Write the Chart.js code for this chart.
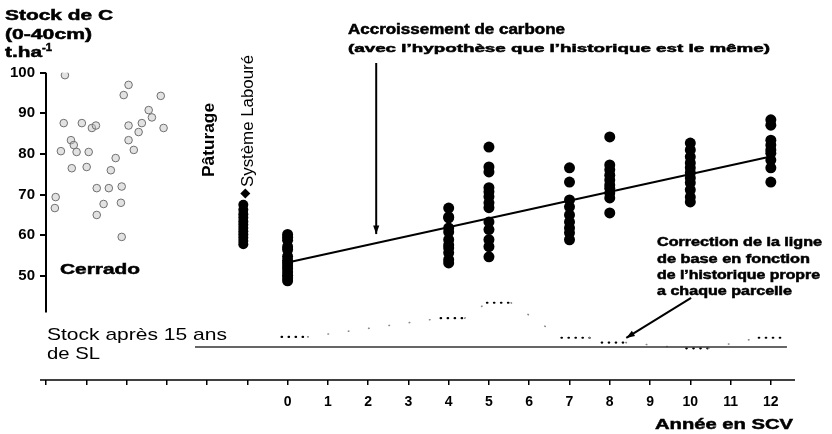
<!DOCTYPE html>
<html>
<head>
<meta charset="utf-8">
<script src="https://cdn.jsdelivr.net/npm/chart.js@4.4.1/dist/chart.umd.min.js"></script>
<style>
  html, body { margin: 0; padding: 0; background: #fff; }
  #wrap { width: 832px; height: 434px; }
</style>
</head>
<body>
<div id="wrap"><canvas id="stock"></canvas></div>
<script>
// values (x in years of SCV, y in t C/ha)
const yTicks = [50, 60, 70, 80, 90, 100];
const xLabels = [0, 1, 2, 3, 4, 5, 6, 7, 8, 9, 10, 11, 12];

const cerradoX = [-5.53, -3.95, -4.07, -3.15, -5.56, -5.11, -4.86, -4.76, -5.38, -5.31, -5.63, -5.24,
  -4.94, -5.36, -4.99, -4.39, -4.27, -3.95, -3.95, -3.70, -3.62, -3.37, -3.45, -3.08, -3.82, -4.74,
  -4.44, -4.12, -5.76, -5.78, -4.57, -4.14, -4.74, -4.12];
const cerradoY = [99.4, 97.0, 94.5, 94.3, 87.6, 87.6, 86.4, 87.0, 83.4, 82.2, 80.7, 80.5,
  80.5, 76.5, 76.8, 76.0, 79.0, 83.4, 87.0, 85.4, 87.6, 89.0, 90.8, 86.4, 81.0, 71.6,
  71.6, 72.0, 69.4, 66.7, 67.7, 68.0, 65.0, 59.6];

const paturageX = -1.1;
const paturageY = [67.5, 66.3, 65.2, 64.3, 63.4, 62.6, 61.8, 61.0, 60.2, 59.4, 58.6, 57.8];
const laboureX = -1.05;
const laboureY = [70.3];

const scvYears = [0, 4, 5, 7, 8, 10, 12];
const scvStocks = [
  [60.2, 59.5, 58.8, 57.2, 56.5, 54.8, 53.8, 53.2, 52.5, 51.8, 51.0, 50.2, 49.5, 48.8],
  [66.7, 64.5, 64.3, 61.8, 60.8, 58.9, 57.6, 56.9, 55.7, 54.0, 53.2],
  [81.7, 76.8, 75.6, 71.7, 70.7, 69.5, 68.0, 66.8, 63.3, 61.4, 58.9, 57.2, 54.7],
  [76.6, 73.1, 68.7, 67.0, 65.0, 63.3, 61.8, 60.6, 58.9],
  [84.2, 77.3, 76.1, 74.8, 73.6, 72.4, 71.6, 70.4, 69.2, 65.5],
  [82.7, 81.0, 79.3, 77.8, 76.6, 75.4, 74.1, 72.9, 71.2, 69.4, 68.2],
  [88.4, 87.1, 83.4, 82.2, 81.0, 80.2, 78.5, 76.6, 73.1]
];

const trendX = [0, 12];
const trendY = [53.3, 79.4];

const baseX = [-2.3, 12.4];
const baseY = [32.5, 32.5];

const corrX = [-0.15, 0.5, 3.8, 4.4, 4.95, 5.55, 6.8, 7.5, 7.8, 8.4, 9.9, 10.45, 11.7, 12.25];
const corrY = [35.0, 35.0, 39.6, 39.6, 43.4, 43.4, 34.8, 34.8, 33.6, 33.6, 32.2, 32.2, 34.8, 34.8];

const FONT = '"Liberation Sans", Arial, sans-serif';

const pts = (xs, ys) => ys.map((v, i) => ({ x: Array.isArray(xs) ? xs[i] : xs, y: v }));
const scvPoints = [];
scvYears.forEach((yr, i) => scvStocks[i].forEach(v => scvPoints.push({ x: yr, y: v })));

// text drawn stretched to the width it has in the scan
function txt(ctx, s, x, y, size, weight, w) {
  ctx.save();
  ctx.font = weight + ' ' + size + 'px ' + FONT;
  ctx.textBaseline = 'middle';
  ctx.textAlign = 'left';
  const m = ctx.measureText(s).width;
  ctx.translate(x, y);
  ctx.scale(w ? w / m : 1, 1);
  ctx.fillStyle = '#000';
  ctx.fillText(s, 0, 0);
  if (weight === 'bold') { // heavier, like the scan
    ctx.strokeStyle = '#000';
    ctx.lineWidth = 0.5;
    ctx.strokeText(s, 0, 0);
  }
  ctx.restore();
}
function vtxt(ctx, s, cx, cy, size, weight, len) {
  ctx.save();
  ctx.font = weight + ' ' + size + 'px ' + FONT;
  ctx.textBaseline = 'middle';
  ctx.textAlign = 'center';
  const m = ctx.measureText(s).width;
  ctx.translate(cx, cy);
  ctx.rotate(-Math.PI / 2);
  ctx.scale(len / m, 1);
  ctx.fillStyle = '#000';
  ctx.fillText(s, 0, 0);
  ctx.restore();
}
function arrow(ctx, x0, y0, x1, y1) {
  ctx.save();
  ctx.strokeStyle = '#000';
  ctx.fillStyle = '#000';
  ctx.lineWidth = 2;
  ctx.beginPath();
  ctx.moveTo(x0, y0);
  ctx.lineTo(x1, y1);
  ctx.stroke();
  const a = Math.atan2(y1 - y0, x1 - x0);
  ctx.beginPath();
  ctx.moveTo(x1, y1);
  ctx.lineTo(x1 - 9 * Math.cos(a - 0.35), y1 - 9 * Math.sin(a - 0.35));
  ctx.lineTo(x1 - 9 * Math.cos(a + 0.35), y1 - 9 * Math.sin(a + 0.35));
  ctx.closePath();
  ctx.fill();
  ctx.restore();
}

const decorations = {
  id: 'decorations',
  afterDraw(chart) {
    const ctx = chart.ctx;
    const x = chart.scales.x, y = chart.scales.y;
    const area = chart.chartArea;
    ctx.save();
    ctx.strokeStyle = '#000';
    // y axis line stops above the "Stock après" zone
    ctx.lineWidth = 2;
    ctx.beginPath();
    ctx.moveTo(area.left, y.getPixelForValue(100));
    ctx.lineTo(area.left, y.getPixelForValue(41));
    ctx.stroke();
    // x axis line runs a little past the y axis on the left
    ctx.lineWidth = 1.5;
    ctx.beginPath();
    ctx.moveTo(area.left - 6, area.bottom);
    ctx.lineTo(area.right, area.bottom);
    ctx.stroke();
    ctx.restore();

    txt(ctx, 'Stock de C', 5, 16, 15, 'bold', 108);
    txt(ctx, '(0-40cm)', 5, 35, 15, 'bold', 87);
    txt(ctx, 't.ha', 5, 53, 15, 'bold', 37);
    txt(ctx, '-1', 42, 48, 10, 'bold', 10);

    vtxt(ctx, 'Pâturage', 210, 140, 16, 'bold', 74);
    vtxt(ctx, 'Système Labouré', 249, 121, 16, 'normal', 132);
    txt(ctx, 'Cerrado', 60, 270, 15, 'bold', 80);
    txt(ctx, 'Stock après 15 ans', 47, 335, 17, 'normal', 180);
    txt(ctx, 'de SL', 47, 354, 17, 'normal', 53);

    txt(ctx, 'Accroissement de carbone', 348, 30, 14, 'bold', 217);
    txt(ctx, '(avec l\u2019hypothèse que l\u2019historique est le même)', 348, 49, 11.5, 'bold', 422);

    txt(ctx, 'Correction de la ligne', 657, 243, 12, 'bold', 165);
    txt(ctx, 'de base en fonction', 657, 260, 12, 'bold', 153);
    txt(ctx, 'de l\u2019historique propre', 657, 276, 12, 'bold', 163);
    txt(ctx, 'a chaque parcelle', 657, 292, 12, 'bold', 135);

    txt(ctx, 'Année en SCV', 655, 425, 15, 'bold', 138);

    arrow(ctx, x.getPixelForValue(2.2), 63, x.getPixelForValue(2.2), y.getPixelForValue(60.3));
    arrow(ctx, x.getPixelForValue(10.02), y.getPixelForValue(44.6), x.getPixelForValue(8.41), y.getPixelForValue(34.75));
  }
};

new Chart(document.getElementById('stock').getContext('2d'), {
  type: 'scatter',
  data: {
    datasets: [
      {
        label: 'Cerrado',
        data: pts(cerradoX, cerradoY),
        pointRadius: 3.8,
        borderWidth: 1,
        borderColor: '#6f6f6f',
        backgroundColor: 'rgba(190,190,190,0.45)'
      },
      {
        label: 'Pâturage',
        data: pts(paturageX, paturageY),
        pointRadius: 5,
        borderWidth: 0,
        backgroundColor: '#000'
      },
      {
        label: 'Système Labouré',
        data: pts(laboureX, laboureY),
        pointStyle: 'rectRot',
        pointRadius: 5,
        borderWidth: 0,
        backgroundColor: '#000'
      },
      {
        label: 'SCV',
        data: scvPoints,
        pointRadius: 5.5,
        borderWidth: 0,
        backgroundColor: '#000'
      },
      {
        type: 'line',
        label: 'Accroissement',
        data: pts(trendX, trendY),
        borderColor: '#000',
        borderWidth: 2,
        pointRadius: 0
      },
      {
        type: 'line',
        label: 'Stock après 15 ans de SL',
        data: pts(baseX, baseY),
        borderColor: '#333',
        borderWidth: 1.5,
        pointRadius: 0
      },
      {
        type: 'line',
        label: 'Correction',
        data: pts(corrX, corrY),
        borderColor: '#000',
        borderWidth: 2.2,
        borderCapStyle: 'round',
        pointRadius: 0,
        segment: {
          borderDash: c => c.p0.parsed.y === c.p1.parsed.y ? [0.5, 6.5] : [0.5, 20],
          borderColor: c => c.p0.parsed.y === c.p1.parsed.y ? '#000' : '#8a8a8a',
          borderWidth: c => c.p0.parsed.y === c.p1.parsed.y ? 2.2 : 1.6
        }
      }
    ]
  },
  options: {
    responsive: true,
    maintainAspectRatio: false,
    animation: false,
    layout: { padding: { left: 4, right: 37, top: 72.7, bottom: 0 } },
    plugins: { legend: { display: false }, tooltip: { enabled: false } },
    scales: {
      x: {
        type: 'linear',
        min: -6,
        max: 12.6,
        afterBuildTicks: s => { s.ticks = [-6, -5, -4, -3, -2, -1].concat(xLabels).map(v => ({ value: v })); },
        afterFit: s => { s.height = 54; },
        border: { display: false },
        grid: { drawOnChartArea: false, drawTicks: true, tickLength: 5, color: '#000', lineWidth: 1.5 },
        ticks: {
          autoSkip: false,
          maxRotation: 0,
          padding: 9,
          color: '#000',
          font: { family: FONT, size: 14, weight: 'bold' },
          callback: v => (v >= 0 ? v : '')
        }
      },
      y: {
        type: 'linear',
        min: 24.4,
        max: 100,
        afterBuildTicks: s => { s.ticks = yTicks.map(v => ({ value: v })); },
        afterFit: s => { s.width = 42; },
        border: { display: false },
        grid: { drawOnChartArea: false, drawTicks: true, tickLength: 6, color: '#000', lineWidth: 2 },
        ticks: {
          padding: 5,
          color: '#000',
          font: { family: FONT, size: 15, weight: 'bold' }
        }
      }
    }
  },
  plugins: [decorations]
});
</script>
</body>
</html>
